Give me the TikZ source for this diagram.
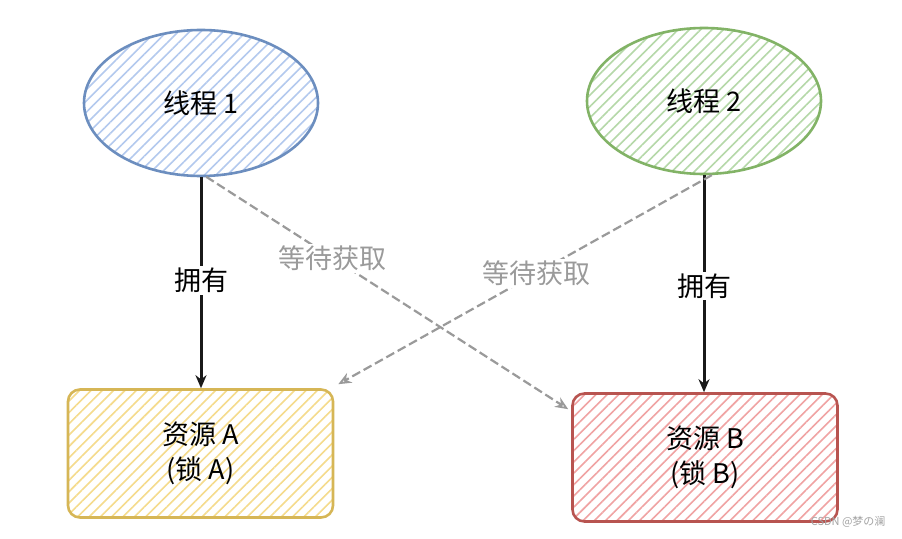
\documentclass[tikz,border=0pt]{standalone}
\usepackage{fontspec}
\setmainfont{Noto Sans CJK SC}
\usetikzlibrary{shapes.geometric,arrows.meta,patterns.meta}
\definecolor{bdblue}{HTML}{6C8EBF}
\definecolor{hblue}{HTML}{B3C9EE}
\definecolor{bdgreen}{HTML}{82B366}
\definecolor{hgreen}{HTML}{B5D8A8}
\definecolor{bdyellow}{HTML}{D6B656}
\definecolor{hyellow}{HTML}{F5DB8C}
\definecolor{bdred}{HTML}{B85450}
\definecolor{hred}{HTML}{F0A3A3}
\definecolor{waitgray}{HTML}{9A9A9A}
\tikzset{
  thread/.style={ellipse, draw=#1, line width=2.6pt, minimum width=234pt, minimum height=146pt, inner sep=0pt, font=\fontsize{27}{30}\selectfont},
  res/.style={rectangle, rounded corners=12pt, draw=#1, line width=2.6pt, minimum width=265pt, minimum height=128pt, inner sep=0pt, align=center, font=\fontsize{27}{35}\selectfont},
  hatch/.style={pattern={Lines[angle=45,distance=8pt,line width=1.6pt]}, pattern color=#1},
  own/.style={draw=black!90, line width=3pt, -{Stealth[open,length=13pt,width=11pt,line width=2.2pt]}},
  wait/.style={draw=waitgray, line width=2.2pt, dash pattern=on 9pt off 4pt, -{Stealth[open,length=13pt,width=11pt,line width=1.8pt]}},
  lbl/.style={fill=white, inner sep=2pt, font=\fontsize{27}{30}\selectfont},
}
\begin{document}
\begin{tikzpicture}[x=1pt,y=-1pt]
\useasboundingbox[fill=white] (0,0) rectangle (902,538);
\node[thread=bdblue, hatch=hblue] (t1) at (201,103) {线程 1};
\node[thread=bdgreen, hatch=hgreen] (t2) at (704,101) {线程 2};
\node[res=bdyellow, hatch=hyellow] (ra) at (200.5,453.5) {资源 A\\(锁 A)};
\node[res=bdred, hatch=hred] (rb) at (705,457.5) {资源 B\\(锁 B)};
\coordinate (wbEnd) at ([xshift=-3pt,yshift=-17pt]rb.north west);
\coordinate (waEnd) at ([xshift=4pt,yshift=4pt]ra.north east);
\draw[own] (t1.south) -- node[lbl, pos=0.49, text=black] (own1) {拥有} (t1.south |- ra.north);
\draw[own] (t2.south) -- node[lbl, pos=0.51, text=black] (own2) {拥有} (t2.south |- rb.north);
\draw[wait] (t1.-86) -- node[lbl, pos=0.35, text=waitgray] (w1) {等待获取} (wbEnd);
\draw[wait] (t2.-84) -- node[lbl, pos=0.47, text=waitgray] (w2) {等待获取} (waEnd);
\node[text=waitgray!90, font=\fontsize{11}{13}\selectfont, anchor=east] (wm) at (889,522) {CSDN @梦の澜};
\end{tikzpicture}
\end{document}
